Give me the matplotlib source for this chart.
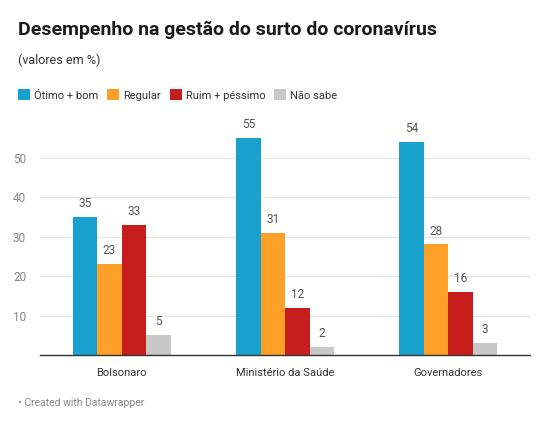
import matplotlib

matplotlib.use("Agg")
import matplotlib.pyplot as plt
import numpy as np

# dados
categorias = ["Bolsonaro", "Ministério da Saúde", "Governadores"]
series = ["Ótimo + bom", "Regular", "Ruim + péssimo", "Não sabe"]
otimo_bom = [35, 55, 54]
regular = [23, 31, 28]
ruim_pessimo = [33, 12, 16]
nao_sabe = [5, 2, 3]
valores = [otimo_bom, regular, ruim_pessimo, nao_sabe]
cores = ["#18a1cd", "#fe9f27", "#c71e1d", "#c8c8c8"]
y_ticks = [10, 20, 30, 40, 50]

plt.rcParams["font.family"] = ["Roboto", "DejaVu Sans"]

fig = plt.figure(figsize=(5.5, 4.3), dpi=100)
ax = fig.add_axes([40 / 550, 1 - 355 / 430, 490 / 550, 225 / 430])

x = np.arange(len(categorias))
largura = 0.15
handles = []
for i, (nome, vals, cor) in enumerate(zip(series, valores, cores)):
    pos = x + (i - 1.5) * largura
    barras = ax.bar(pos, vals, width=largura, color=cor, label=nome, zorder=3)
    handles.append(barras)
    for p, v in zip(pos, vals):
        ax.annotate(
            str(v),
            (p, v),
            xytext=(0, 5),
            textcoords="offset points",
            ha="center",
            va="bottom",
            fontsize=8.5,
            color="#555555",
        )

ax.set_xlim(-0.5, 2.5)
ax.set_ylim(0, 57)
ax.set_yticks(y_ticks)
ax.set_xticks(x)
ax.set_xticklabels(categorias, fontsize=8, color="#333333")
ax.tick_params(axis="y", length=0, labelsize=8.5, labelcolor="#888888", pad=10)
ax.tick_params(axis="x", length=0, pad=9)
ax.grid(axis="y", color="#e3e3e3", linewidth=0.8, zorder=0)
for lado in ["top", "right", "left"]:
    ax.spines[lado].set_visible(False)
ax.spines["bottom"].set_color("#333333")
ax.spines["bottom"].set_linewidth(1)
ax.spines["bottom"].set_zorder(4)

fig.text(
    18 / 550,
    1 - 30 / 430,
    "Desempenho na gestão do surto do coronavírus",
    fontsize=14,
    fontweight="bold",
    color="#1a1a1a",
    va="center",
)
fig.text(18 / 550, 1 - 60 / 430, "(valores em %)", fontsize=9, color="#333333", va="center")
fig.text(
    18 / 550,
    1 - 403 / 430,
    "• Created with Datawrapper",
    fontsize=7.5,
    color="#888888",
    va="center",
)

fig.legend(
    handles=handles,
    labels=series,
    loc="center left",
    bbox_to_anchor=(18 / 550, 1 - 95 / 430),
    ncol=4,
    frameon=False,
    fontsize=8,
    borderpad=0,
    borderaxespad=0,
    handlelength=1.08,
    handleheight=1.08,
    handletextpad=0.36,
    columnspacing=0.8,
    labelcolor="#333333",
)

fig.savefig("out.png", dpi=100)
